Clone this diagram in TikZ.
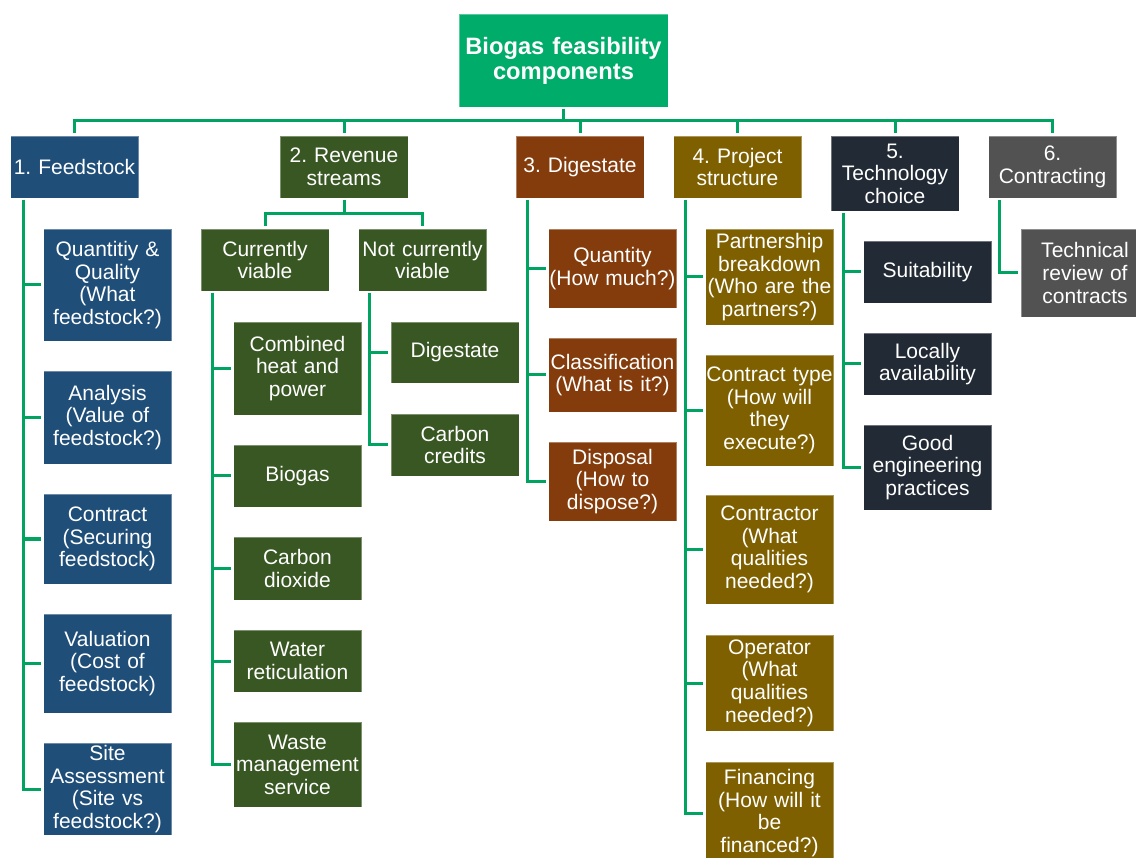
\documentclass[tikz,border=0pt]{standalone}
\usepackage{fontspec}
\setmainfont{Liberation Sans}
\frenchspacing
\usetikzlibrary{calc}
\definecolor{rootgreen}{HTML}{00AC69}
\definecolor{linegreen}{HTML}{00A35F}
\definecolor{feedblue}{HTML}{1F4E79}
\definecolor{revgreen}{HTML}{385723}
\definecolor{digbrown}{HTML}{843C0C}
\definecolor{projolive}{HTML}{7F6000}
\definecolor{technavy}{HTML}{222A35}
\definecolor{contgrey}{HTML}{525252}
\begin{document}
\begin{tikzpicture}[x=1pt,y=-1pt,
  box/.style={rectangle, draw=white, draw opacity=0.35, line width=0.8pt,
    text=white, inner xsep=0pt, inner ysep=0pt, minimum width=128pt,
    text width=128pt, align=center, font=\fontsize{21}{22.6}\selectfont},
  rootbox/.style={box, fill=rootgreen, minimum width=209pt, text width=209pt,
    font=\bfseries\fontsize{23.7}{25}\selectfont},
  conn/.style={draw=linegreen, line width=3pt, shorten <=1.5pt, shorten >=2.5pt},
]
\useasboundingbox (0,0) rectangle (1136,858);
\coordinate (bus) at (0,121);

% top
\node[rootbox, minimum height=93pt] (root) at (563.5,60.5) {Biogas feasibility\\components};

% first level
\node[box, fill=feedblue,  minimum height=62pt] (f1) at (74.5,167)   {1. Feedstock};
\node[box, fill=revgreen,  minimum height=62pt] (f2) at (344,167)    {2. Revenue\\streams};
\node[box, fill=digbrown,  minimum height=62pt] (f3) at (580,167)    {3. Digestate};
\node[box, fill=projolive, minimum height=62pt] (f4) at (737.5,167)  {4. Project\\structure};
\node[box, fill=technavy,  minimum height=75pt] (f5) at (895,173.5)  {5.\\Technology\\choice};
\node[box, fill=contgrey,  minimum height=62pt] (f6) at (1052.5,167) {6.\\Contracting};

% feedstock
\node[box, fill=feedblue, minimum height=112pt] (a1) at (107.5,285)   {Quantitiy \&\\Quality\\(What\\feedstock?)};
\node[box, fill=feedblue, minimum height=93pt]  (a2) at (107.5,417.5) {Analysis\\(Value of\\feedstock?)};
\node[box, fill=feedblue, minimum height=90pt]  (a3) at (107.5,539)   {Contract\\(Securing\\feedstock)};
\node[box, fill=feedblue, minimum height=99pt]  (a4) at (107.5,663.5) {Valuation\\(Cost of\\feedstock)};
\node[box, fill=feedblue, minimum height=92pt]  (a5) at (107.5,789)   {Site\\Assessment\\(Site vs\\feedstock?)};

% revenue streams
\node[box, fill=revgreen, minimum height=62pt] (cv)  at (265,260)   {Currently\\viable};
\node[box, fill=revgreen, minimum height=62pt] (ncv) at (422.5,260) {Not currently\\viable};
\node[box, fill=revgreen, minimum height=93pt] (b1) at (297.5,368.5) {Combined\\heat and\\power};
\node[box, fill=revgreen, minimum height=62pt] (b2) at (297.5,476)   {Biogas};
\node[box, fill=revgreen, minimum height=63pt] (b3) at (297.5,568.5) {Carbon\\dioxide};
\node[box, fill=revgreen, minimum height=62pt] (b4) at (297.5,661)   {Water\\reticulation};
\node[box, fill=revgreen, minimum height=85pt] (b5) at (297.5,764.5) {Waste\\management\\service};
\node[box, fill=revgreen, minimum height=61pt] (c1) at (455,352.5) {Digestate};
\node[box, fill=revgreen, minimum height=62pt] (c2) at (455,445)   {Carbon\\credits};

% digestate
\node[box, fill=digbrown, minimum height=79pt] (d1) at (612.5,268.5) {Quantity\\(How much?)};
\node[box, fill=digbrown, minimum height=74pt] (d2) at (612.5,375)   {Classification\\(What is it?)};
\node[box, fill=digbrown, minimum height=79pt] (d3) at (612.5,481.5) {Disposal\\(How to\\dispose?)};

% project structure
\node[box, fill=projolive, minimum height=96pt]  (e1) at (769.5,277)   {Partnership\\breakdown\\(Who are the\\partners?)};
\node[box, fill=projolive, minimum height=111pt] (e2) at (769.5,410.5) {Contract type\\(How will\\they\\execute?)};
\node[box, fill=projolive, minimum height=109pt] (e3) at (769.5,549.5) {Contractor\\(What\\qualities\\needed?)};
\node[box, fill=projolive, minimum height=96pt]  (e4) at (769.5,683)   {Operator\\(What\\qualities\\needed?)};
\node[box, fill=projolive, minimum height=102pt] (e5) at (769.5,813)   {Financing\\(How will it\\be\\financed?)};

% technology choice
\node[box, fill=technavy, minimum height=62pt] (g1) at (927.5,272)   {Suitability};
\node[box, fill=technavy, minimum height=62pt] (g2) at (927.5,364)   {Locally\\availability};
\node[box, fill=technavy, minimum height=85pt] (g3) at (927.5,467.5) {Good\\engineering\\practices};

% contracting
\node[box, fill=contgrey, minimum height=88pt] (h1) at (1085,273) {Technical\\review of\\contracts};

% connectors: top bus
\foreach \f in {f1,f2,f3,f4,f5,f6}
  \draw[conn] (root.south) -- (root.south |- bus) -| (\f.north);

% revenue split
\foreach \f in {cv,ncv}
  \draw[conn] (f2.south) -- ++(0,15.5) -| (\f.north);

% side spines
\foreach \c in {a1,a2,a3,a4,a5}
  \draw[conn] ([xshift=13pt]f1.south west) |- (\c.west);
\foreach \c in {b1,b2,b3,b4,b5}
  \draw[conn] ([xshift=12pt]cv.south west) |- (\c.west);
\foreach \c in {c1,c2}
  \draw[conn] ([xshift=11pt]ncv.south west) |- (\c.west);
\foreach \c in {d1,d2,d3}
  \draw[conn] ([xshift=12pt]f3.south west) |- (\c.west);
\foreach \c in {e1,e2,e3,e4,e5}
  \draw[conn] ([xshift=12pt]f4.south west) |- (\c.west);
\foreach \c in {g1,g2,g3}
  \draw[conn] ([xshift=13pt]f5.south west) |- (\c.west);
\draw[conn] ([xshift=11pt]f6.south west) |- (h1.west);
\end{tikzpicture}
\end{document}
